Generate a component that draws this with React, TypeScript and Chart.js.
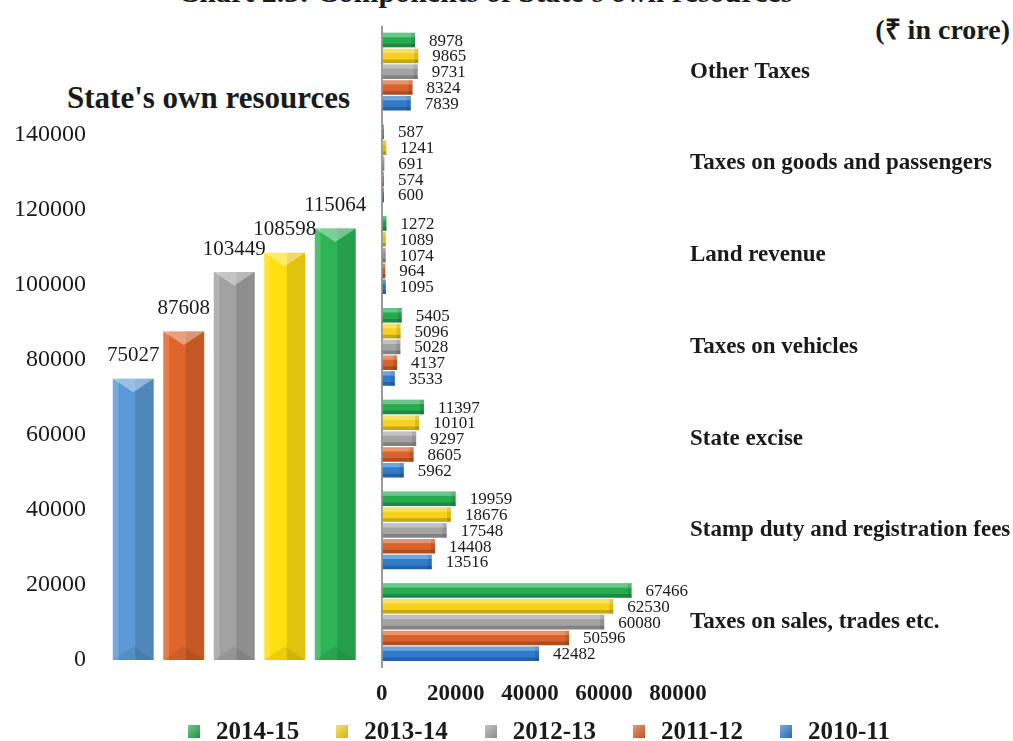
import React, { useEffect, useRef } from "react";
import { Chart, registerables } from "chart.js";
Chart.register(...registerables);

// ---- Data ----
const years = ["2010-11", "2011-12", "2012-13", "2013-14", "2014-15"];
const totals = [75027, 87608, 103449, 108598, 115064];
const categories = [
  "Other Taxes",
  "Taxes on goods and passengers",
  "Land revenue",
  "Taxes on vehicles",
  "State excise",
  "Stamp duty and registration fees",
  "Taxes on sales, trades etc.",
];
const s201415 = [8978, 587, 1272, 5405, 11397, 19959, 67466];
const s201314 = [9865, 1241, 1089, 5096, 10101, 18676, 62530];
const s201213 = [9731, 691, 1074, 5028, 9297, 17548, 60080];
const s201112 = [8324, 574, 964, 4137, 8605, 14408, 50596];
const s201011 = [7839, 600, 1095, 3533, 5962, 13516, 42482];
const leftMax = 140000;
const leftStep = 20000;
const bottomMax = 80000;
const bottomStep = 20000;

const title = "Chart 2.3: Components of State's own resources";
const leftTitle = "State's own resources";
const unitText = "(₹ in crore)";

const yearColors: Record<string, string> = {
  "2010-11": "#2f7ccc",
  "2011-12": "#d9622a",
  "2012-13": "#a3a3a3",
  "2013-14": "#f7d21a",
  "2014-15": "#27ab51",
};
const leftColors: Record<string, string> = {
  "2010-11": "#5b9ad6",
  "2011-12": "#e0652a",
  "2012-13": "#a2a2a2",
  "2013-14": "#ffdf10",
  "2014-15": "#2db457",
};

const seriesOrder = [
  { label: "2014-15", data: s201415 },
  { label: "2013-14", data: s201314 },
  { label: "2012-13", data: s201213 },
  { label: "2011-12", data: s201112 },
  { label: "2010-11", data: s201011 },
];

const FONT = "'Liberation Serif', 'Times New Roman', serif";

const bevelPlugin = {
  id: "bevel",
  afterDatasetsDraw(chart: any) {
    const ctx = chart.ctx;
    ctx.save();
    chart.data.datasets.forEach((_ds: any, di: number) => {
      const meta = chart.getDatasetMeta(di);
      meta.data.forEach((el: any) => {
        const p = el.getProps(["x", "y", "base", "width", "height", "horizontal"], true);
        if (!p.horizontal) {
          const w = p.width;
          const left = p.x - w / 2;
          const right = p.x + w / 2;
          const top = p.y;
          const bottom = p.base;
          const h = bottom - top;
          ctx.fillStyle = "rgba(0,0,0,0.12)";
          ctx.fillRect(p.x + w * 0.05, top, right - p.x - w * 0.05, h);
          ctx.fillStyle = "rgba(255,255,255,0.16)";
          ctx.fillRect(left, top, w * 0.14, h);
          ctx.fillStyle = "rgba(255,255,255,0.38)";
          ctx.beginPath();
          ctx.moveTo(left, top);
          ctx.lineTo(right, top);
          ctx.lineTo(p.x, top + w * 0.33);
          ctx.closePath();
          ctx.fill();
          ctx.fillStyle = "rgba(0,0,0,0.08)";
          ctx.beginPath();
          ctx.moveTo(left, bottom);
          ctx.lineTo(right, bottom);
          ctx.lineTo(p.x, bottom - w * 0.33);
          ctx.closePath();
          ctx.fill();
        } else {
          const h = p.height;
          const top = p.y - h / 2;
          const bottom = p.y + h / 2;
          const left = p.base;
          const right = p.x;
          const len = right - left;
          ctx.fillStyle = "rgba(255,255,255,0.32)";
          ctx.fillRect(left, top, len, h * 0.3);
          ctx.fillStyle = "rgba(0,0,0,0.2)";
          ctx.fillRect(left, bottom - h * 0.25, len, h * 0.25);
          ctx.fillStyle = "rgba(0,0,0,0.1)";
          ctx.fillRect(Math.max(left, right - 4), top, Math.min(4, len), h);
        }
      });
    });
    ctx.restore();
  },
};

const valueLabelPlugin = {
  id: "valueLabels",
  afterDatasetsDraw(chart: any, _args: any, opts: any) {
    const ctx = chart.ctx;
    ctx.save();
    ctx.fillStyle = "#1a1a1a";
    ctx.font = `${opts.size}px ${FONT}`;
    chart.data.datasets.forEach((ds: any, di: number) => {
      const meta = chart.getDatasetMeta(di);
      meta.data.forEach((el: any, i: number) => {
        const p = el.getProps(["x", "y", "horizontal"], true);
        const txt = String(ds.data[i]);
        if (p.horizontal) {
          ctx.textAlign = "left";
          ctx.textBaseline = "middle";
          ctx.fillText(txt, p.x + opts.offset, p.y + 1);
        } else {
          ctx.textAlign = "center";
          ctx.textBaseline = "middle";
          ctx.fillText(txt, p.x, p.y - opts.offset);
        }
      });
    });
    ctx.restore();
  },
};

export default function App() {
  const leftRef = useRef<HTMLCanvasElement>(null);
  const rightRef = useRef<HTMLCanvasElement>(null);

  useEffect(() => {
    Chart.defaults.font.family = FONT;
    Chart.defaults.color = "#1a1a1a";

    const left = new Chart(leftRef.current as HTMLCanvasElement, {
      type: "bar",
      data: {
        labels: years,
        datasets: [
          {
            data: totals,
            backgroundColor: years.map((y) => leftColors[y]),
            barPercentage: 0.81,
            categoryPercentage: 1,
          },
        ],
      },
      options: {
        animation: false,
        responsive: false,
        events: [],
        layout: { padding: { top: 135, bottom: 81, right: 9.5, left: 0 } },
        plugins: {
          legend: { display: false },
          tooltip: { enabled: false },
          valueLabels: { size: 21, offset: 23 },
        } as any,
        scales: {
          x: { display: false },
          y: {
            min: 0,
            max: leftMax,
            ticks: {
              stepSize: leftStep,
              padding: 22,
              font: { size: 24 },
              color: "#1a1a1a",
              callback: (v: any) => String(v),
            },
            grid: { display: false, drawTicks: false },
            border: { display: false },
            afterFit: (s: any) => {
              s.width = 108;
            },
          },
        },
      },
      plugins: [bevelPlugin, valueLabelPlugin],
    });

    const right = new Chart(rightRef.current as HTMLCanvasElement, {
      type: "bar",
      data: {
        labels: categories,
        datasets: seriesOrder.map((s) => ({
          label: s.label,
          data: s.data,
          backgroundColor: yearColors[s.label],
          barPercentage: 0.92,
          categoryPercentage: 0.86,
        })),
      },
      options: {
        indexAxis: "y",
        animation: false,
        responsive: false,
        events: [],
        layout: { padding: { top: 25, bottom: 0, left: 11, right: 0 } },
        plugins: {
          legend: { display: false },
          tooltip: { enabled: false },
          valueLabels: { size: 17, offset: 14 },
        } as any,
        scales: {
          x: {
            min: 0,
            max: bottomMax,
            ticks: {
              stepSize: bottomStep,
              padding: 12,
              font: { size: 23, weight: "bold" },
              color: "#1a1a1a",
              maxRotation: 0,
              callback: (v: any) => String(v),
            },
            grid: {
              drawTicks: false,
              lineWidth: 2,
              color: (c: any) => (c.tick && c.tick.value === 0 ? "#9a9a9a" : "rgba(0,0,0,0)"),
            },
            border: { display: false },
            afterFit: (s: any) => {
              s.height = 73;
            },
          },
          y: {
            position: "right",
            ticks: {
              padding: 12,
              font: { size: 23, weight: "bold" },
              color: "#1a1a1a",
              crossAlign: "near",
            },
            grid: { display: false, drawTicks: false },
            border: { display: false },
            afterFit: (s: any) => {
              s.width = 335;
            },
          },
        },
      },
      plugins: [bevelPlugin, valueLabelPlugin],
    });

    return () => {
      left.destroy();
      right.destroy();
    };
  }, []);

  const legendItems = seriesOrder.map((s) => s.label);

  return (
    <div
      style={{
        position: "absolute",
        left: 0,
        top: 0,
        width: 1013,
        height: 741,
        overflow: "hidden",
        background: "#fff",
        fontFamily: FONT,
        color: "#1a1a1a",
      }}
    >
      <div
        style={{
          position: "absolute",
          left: 0,
          width: 970,
          top: -23,
          textAlign: "center",
          fontWeight: "bold",
          fontSize: 30,
          lineHeight: "30px",
          whiteSpace: "nowrap",
        }}
      >
        {title}
      </div>
      <div
        style={{
          position: "absolute",
          right: 3,
          top: 14,
          fontWeight: "bold",
          fontSize: 28,
          lineHeight: "32px",
          whiteSpace: "nowrap",
        }}
      >
        {unitText}
      </div>
      <div
        style={{
          position: "absolute",
          left: 67,
          top: 81,
          fontWeight: "bold",
          fontSize: 31,
          lineHeight: "34px",
          whiteSpace: "nowrap",
        }}
      >
        {leftTitle}
      </div>
      <canvas
        ref={leftRef}
        width={370}
        height={741}
        style={{ position: "absolute", left: 0, top: 0, width: 370, height: 741 }}
      />
      <canvas
        ref={rightRef}
        width={649}
        height={741}
        style={{ position: "absolute", left: 364, top: 0, width: 649, height: 741 }}
      />
      <div
        style={{
          position: "absolute",
          left: 188,
          top: 716,
          display: "flex",
          alignItems: "center",
          fontWeight: "bold",
          fontSize: 25,
          lineHeight: "30px",
          whiteSpace: "nowrap",
        }}
      >
        {legendItems.map((y) => (
          <div key={y} style={{ display: "flex", alignItems: "center", marginRight: 37 }}>
            <span
              style={{
                display: "inline-block",
                width: 12,
                height: 13,
                marginRight: 16,
                background: `linear-gradient(135deg, rgba(255,255,255,0.35), rgba(0,0,0,0.15)), ${yearColors[y]}`,
              }}
            />
            <span>{y}</span>
          </div>
        ))}
      </div>
    </div>
  );
}
